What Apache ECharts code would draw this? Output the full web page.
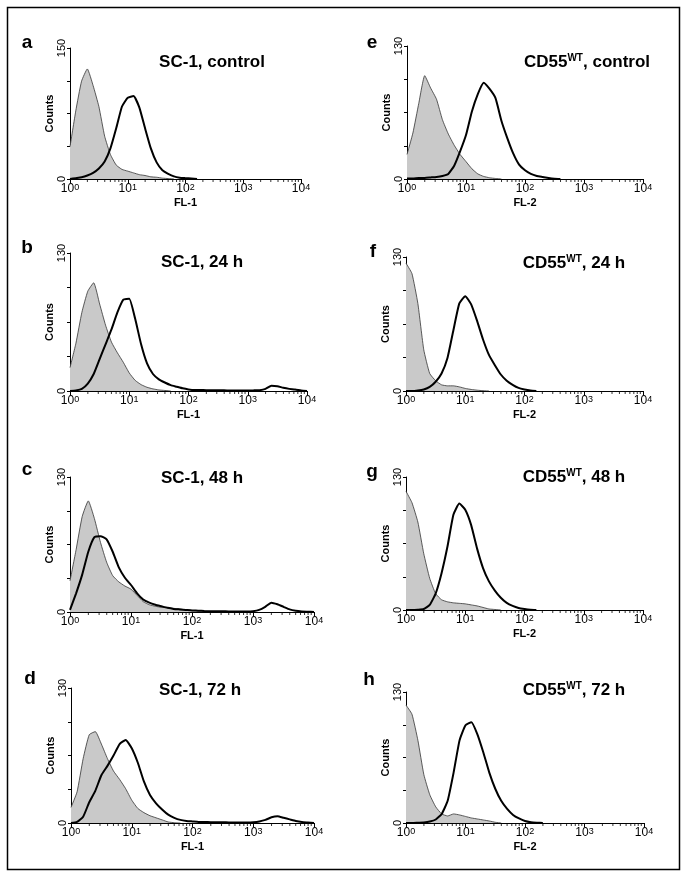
<!DOCTYPE html>
<html><head><meta charset="utf-8">
<script src="https://cdn.jsdelivr.net/npm/echarts@6/dist/echarts.min.js"></script>
<style>html,body{margin:0;padding:0;background:#fff}#c{width:685px;height:879px}</style>
</head><body><div id="c"></div>
<script>
// x positions: decades of fluorescence (log10 FL), 10^0 .. 10^4
const decades = [0,0.1,0.2,0.3,0.4,0.5,0.6,0.7,0.8,0.9,1.0,1.1,1.2,1.3,1.4,1.5,1.6,1.7,1.8,1.9,2.0,2.1,2.2,2.3,2.4,2.5,2.6,2.7,2.8,2.9,3.0,3.1,3.2,3.3,3.4,3.5,3.6,3.7,3.8,3.9,4.0];
const xTickExponents = [0,1,2,3,4];
const minorTickMultipliers = [2,3,4,5,6,7,8,9];

const panelLetters = ['a','b','c','d','e','f','g','h'];
const panelTitles = ['SC-1, control','SC-1, 24 h','SC-1, 48 h','SC-1, 72 h',
  'CD55{sup|WT}, control','CD55{sup|WT}, 24 h','CD55{sup|WT}, 48 h','CD55{sup|WT}, 72 h'];
const xAxisNames = ['FL-1','FL-1','FL-1','FL-1','FL-2','FL-2','FL-2','FL-2'];
const yAxisMax = [150,130,130,130,130,130,130,130];

// gray filled histograms (control) and black outline histograms
const grayA = [37,78,112,126,107,83,49,28,16,11,9,7,5,4,2.5,2,1,0.5,0];
const blackA = [0,1,2,4,7,12,20,35,58,83,93,95,82,58,35,19,10,6,3,1.5,1,0.5,0];
const grayB = [22,45,74,94,102,82,62,46,36,27,17,10,6,3.5,2,1,0.5,0];
const blackB = [0,0.5,2,7,16,30,44,58,74,86,87,68,44,26,16,11,8,5.5,4,2.5,1.5,1,1,0.8,0.8,0.6,0.6,0.5,0.5,0.5,0.5,0.6,0.8,2,5,4.5,3,2,1.5,0.5,0];
const grayC = [30,60,92,107,90,67,48,35,29,25,22,16,10,7,5.5,4.5,4,3.5,3,2,1.5,1,0.8,0.5,0.3,0];
const blackC = [2,18,36,58,72,73,70,58,43,33,26,18,12,9,7,5.5,4,3,2.5,2,1.5,1.3,1,0.8,0.8,0.7,0.6,0.6,0.5,0.5,0.8,2,5,9,7.5,5,2.5,1.2,0.6,0.3,0];
const grayD = [15,30,62,85,88,76,62,50,42,33,22,14,10,7,5,3,1,0.3,0];
const blackD = [0,1,6,20,31,46,55,65,76,80,72,58,40,27,19,13,8,5,3,2,1.5,1,1,0.8,0.8,0.8,0.6,0.6,0.6,0.6,0.8,1.5,3,5.5,6.5,5,3.5,2,1,0.5,0];
const grayE = [24,45,74,101,89,78,58,44,33,24,17,10,5,2.5,1.2,0.5,0];
const blackE = [0.5,0.5,1,1,1.5,2,3,5,13,27,43,66,83,94,88,79,57,40,25,14,8.5,5,3,2,1,0.3,0];
const grayF = [124,114,85,40,17,10,6,5,5,4,2.5,1.5,0.8,0.3,0];
const blackF = [0,0,0.5,1.5,4,9,17,32,59,85,92,84,68,50,35,25,16,10,6,3,1.5,0.5,0];
const grayG = [116,105,86,55,31,16,10,8,7,6.5,6,5,4,2.5,1,0.5,0];
const blackG = [0,0,0.3,1,5,16,36,62,93,104,98,83,60,41,28,19,12,7,4,2,1,0.3,0];
const grayH = [117,108,82,48,28,16,9,7,9,8,6.5,5,4,3,2,0.7,0];
const blackH = [0,0,0.3,0.6,1.5,3.5,9,22,50,82,97,100,88,70,50,34,22,14,8,4.5,2,0.8,0.3,0];

const grayData = [grayA,grayB,grayC,grayD,grayE,grayF,grayG,grayH];
const blackData = [blackA,blackB,blackC,blackD,blackE,blackF,blackG,blackH];

// layout
const grids = [
  {left:70, top:48, width:231, height:131},
  {left:70, top:253, width:237, height:138},
  {left:70, top:477, width:244, height:135},
  {left:71, top:688, width:243, height:135},
  {left:407, top:46, width:236, height:133},
  {left:406, top:257, width:237, height:134},
  {left:406, top:477, width:237, height:133},
  {left:406, top:692, width:238, height:131}
];
const letterPos = [[27,43],[27,248],[27,470],[30,679],[372,43],[373,252],[372,472],[369,680]];
const titlePos = [[212,62],[202,262],[202,478],[200,690],[587,62],[574,263],[574,477],[574,690]];

const FONT = '"Liberation Sans", Arial, Helvetica, sans-serif';
const pair = arr => arr.map((v,i) => [decades[i], v]);
const minorTicks = [];
xTickExponents.slice(0,4).forEach(e => minorTickMultipliers.forEach(m => minorTicks.push([e + Math.log10(m), 0])));

const xAxes = [], yAxes = [], series = [], graphics = [];
grids.forEach((g, i) => {
  const ymax = yAxisMax[i];
  xAxes.push({
    type:'value', gridIndex:i, min:0, max:4, interval:1,
    axisLine:{lineStyle:{color:'#000', width:1}},
    axisTick:{length:4, lineStyle:{color:'#000'}},
    splitLine:{show:false},
    axisLabel:{color:'#000', fontFamily:FONT, fontSize:12, margin:4,
      formatter: v => '10{s|' + v + '}',
      rich:{s:{fontSize:9, fontFamily:FONT, color:'#000', verticalAlign:'top', lineHeight:9}}},
    name: xAxisNames[i], nameLocation:'middle', nameGap:18,
    nameTextStyle:{color:'#000', fontFamily:FONT, fontSize:11, fontWeight:'bold'}
  });
  yAxes.push({
    type:'value', gridIndex:i, min:0, max:ymax, interval:ymax/4,
    axisLine:{show:true, lineStyle:{color:'#000', width:1}},
    axisTick:{show:true, length:3, lineStyle:{color:'#000'}},
    splitLine:{show:false},
    axisLabel:{color:'#000', fontFamily:FONT, fontSize:11, rotate:90, margin:3,
      formatter: v => (v === 0 || v === ymax) ? String(v) : ''},
    name:'Counts', nameLocation:'middle', nameRotate:90, nameGap:7,
    nameTextStyle:{color:'#000', fontFamily:FONT, fontSize:11, fontWeight:'bold'}
  });
  series.push({
    type:'line', xAxisIndex:i, yAxisIndex:i, data:pair(grayData[i]), symbol:'none',
    smooth:0.15, lineStyle:{color:'#333', width:0.8}, areaStyle:{color:'#c9c9c9', opacity:1},
    silent:true, z:2
  });
  series.push({
    type:'line', xAxisIndex:i, yAxisIndex:i, data:pair(blackData[i]), symbol:'none',
    smooth:0.15, lineStyle:{color:'#000', width:2},
    silent:true, z:3
  });
  series.push({
    type:'scatter', xAxisIndex:i, yAxisIndex:i, data:minorTicks, symbol:'rect',
    symbolSize:[1,2.5], symbolOffset:[0,1.8], itemStyle:{color:'#000'},
    silent:true, clip:false, z:4
  });
  graphics.push({type:'text', x:letterPos[i][0], y:letterPos[i][1],
    style:{text:panelLetters[i], font:'bold 19px ' + FONT, fill:'#000', textAlign:'center', textVerticalAlign:'middle'}});
  graphics.push({type:'text', x:titlePos[i][0], y:titlePos[i][1],
    style:{text:panelTitles[i], font:'bold 17px ' + FONT, fill:'#000', textAlign:'center', textVerticalAlign:'middle',
      rich:{sup:{fontSize:10, fontWeight:'bold', fontFamily:FONT, fill:'#000', verticalAlign:'top', lineHeight:10}}}});
});
graphics.push({type:'rect', shape:{x:7.5, y:7.5, width:672, height:862},
  style:{fill:'none', stroke:'#000', lineWidth:1.5}});

const chart = echarts.init(document.getElementById('c'), null, {renderer:'canvas'});
chart.setOption({
  animation:false,
  backgroundColor:'#fff',
  grid: grids.map(g => Object.assign({containLabel:false}, g)),
  xAxis:xAxes, yAxis:yAxes, series:series, graphic:graphics
});
</script></body></html>
